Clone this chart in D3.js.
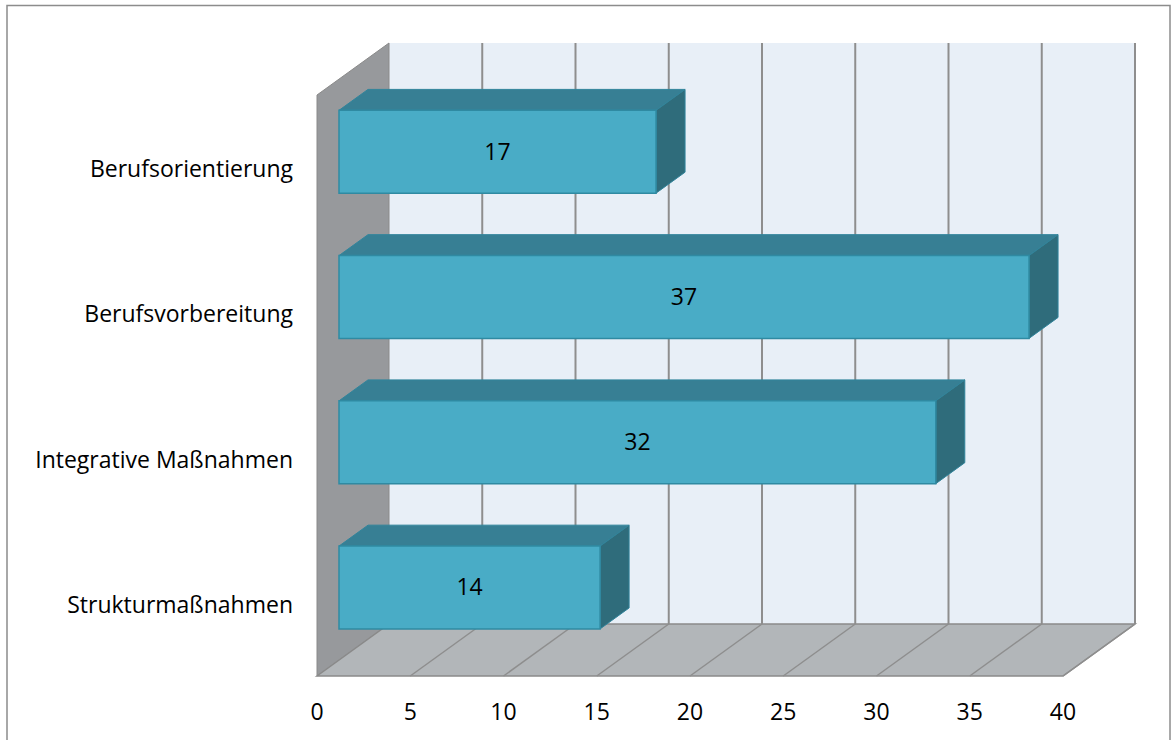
<!DOCTYPE html>
<html>
<head>
<meta charset="utf-8">
<script src="https://cdn.jsdelivr.net/npm/d3@7"></script>
<style>
  html, body { margin: 0; padding: 0; background: #fff; }
  svg { display: block; }
  text { font-family: "Open Sans", Lato, sans-serif; fill: #000; }
</style>
</head>
<body>
<svg id="chart" width="1176" height="740"></svg>
<script>
// ---- data ----
const categories = ["Berufsorientierung", "Berufsvorbereitung", "Integrative Maßnahmen", "Strukturmaßnahmen"];
const values = [17, 37, 32, 14];
const ticks = [0, 5, 10, 15, 20, 25, 30, 35, 40];

// ---- layout ----
const svg = d3.select("#chart");
const DX = 72, DY = -52;           // depth projection of the 3D box
const xFront = d3.scaleLinear().domain([0, 40]).range([317, 1063]);
const yBand = d3.scaleBand().domain(categories).range([95, 676]).paddingInner(0.43).paddingOuter(0.215);
const yTop = 95, yBottom = 676;
const barD0 = 22 / 72, barD1 = 51 / 72;
const FS = "23px";
const capHalf = 8;

const P = (v, y, d) => [xFront(v) + d * DX, y + d * DY];
const poly = pts => "M" + pts.map(p => p.join(",")).join("L") + "Z";

// outer border
svg.append("rect").attr("x", 7).attr("y", 5.5).attr("width", 1163).attr("height", 745)
  .attr("fill", "none").attr("stroke", "#8c8c8c").attr("stroke-width", 1.5);

// back wall
svg.append("path").attr("d", poly([P(0, yTop, 1), P(40, yTop, 1), P(40, yBottom, 1), P(0, yBottom, 1)]))
  .attr("fill", "#e8eff7");
// left wall
svg.append("path").attr("d", poly([P(0, yTop, 0), P(0, yTop, 1), P(0, yBottom, 1), P(0, yBottom, 0)]))
  .attr("fill", "#97999c").attr("stroke", "#8a8a8a").attr("stroke-width", 1);
// floor
svg.append("path").attr("d", poly([P(0, yBottom, 0), P(0, yBottom, 1), P(40, yBottom, 1), P(40, yBottom, 0)]))
  .attr("fill", "#b2b6b9").attr("stroke", "#8a8a8a").attr("stroke-width", 1.5);

// gridlines on back wall and floor
const gridTicks = ticks.filter(t => t > 0);
svg.append("g").selectAll("line").data(gridTicks).join("line")
  .attr("x1", d => P(d, yTop, 1)[0]).attr("y1", d => P(d, yTop, 1)[1])
  .attr("x2", d => P(d, yBottom, 1)[0]).attr("y2", d => P(d, yBottom, 1)[1])
  .attr("stroke", "#8e8e8e").attr("stroke-width", 2);
svg.append("g").selectAll("line").data(gridTicks).join("line")
  .attr("x1", d => P(d, yBottom, 0)[0]).attr("y1", d => P(d, yBottom, 0)[1])
  .attr("x2", d => P(d, yBottom, 1)[0]).attr("y2", d => P(d, yBottom, 1)[1])
  .attr("stroke", "#8e8e8e").attr("stroke-width", 1.5);

// bars
const bars = svg.append("g").selectAll("g").data(categories).join("g");
bars.each(function (c, i) {
  const g = d3.select(this);
  const v = values[i];
  const y0 = yBand(c), y1 = yBand(c) + yBand.bandwidth();
  const stroke = "#31849b";
  // top face
  g.append("path").attr("d", poly([P(0, y0, barD0), P(v, y0, barD0), P(v, y0, barD1), P(0, y0, barD1)]))
    .attr("fill", "#377f94").attr("stroke", stroke).attr("stroke-width", 1);
  // side face
  g.append("path").attr("d", poly([P(v, y0, barD0), P(v, y0, barD1), P(v, y1, barD1), P(v, y1, barD0)]))
    .attr("fill", "#2f6c7b").attr("stroke", stroke).attr("stroke-width", 1);
  // front face
  g.append("path").attr("d", poly([P(0, y0, barD0), P(v, y0, barD0), P(v, y1, barD0), P(0, y1, barD0)]))
    .attr("fill", "#49acc6").attr("stroke", "#2f8aa2").attr("stroke-width", 1.5);
  // value label
  const cx = (P(0, y0, barD0)[0] + P(v, y0, barD0)[0]) / 2;
  const cy = (y0 + y1) / 2 + barD0 * DY;
  g.append("text").attr("x", cx).attr("y", cy + capHalf).attr("text-anchor", "middle")
    .style("font-size", FS).text(v);
});

// category labels
svg.append("g").selectAll("text").data(categories).join("text")
  .attr("x", 293).attr("y", d => yBand(d) + yBand.bandwidth() / 2 + capHalf + 1.5)
  .attr("text-anchor", "end")
  .style("font-size", FS).text(d => d);

// x tick labels
svg.append("g").selectAll("text").data(ticks).join("text")
  .attr("x", d => xFront(d)).attr("y", 712 + capHalf)
  .attr("text-anchor", "middle")
  .style("font-size", FS).text(d => d);
</script>
</body>
</html>
